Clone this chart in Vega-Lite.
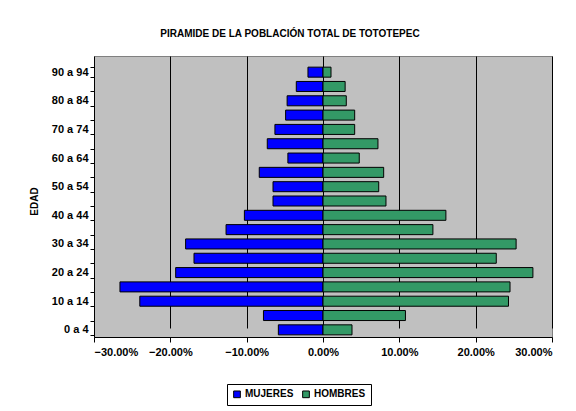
{
  "$schema": "https://vega.github.io/schema/vega-lite/v6.json",
  "width": 458,
  "height": 281,
  "autosize": "none",
  "padding": {"left": 94, "top": 56, "right": 24, "bottom": 74},
  "background": "white",
  "title": {
    "text": "PIRAMIDE DE LA POBLACIÓN TOTAL DE TOTOTEPEC",
    "font": "Liberation Sans",
    "fontSize": 10,
    "fontWeight": "bold",
    "color": "black",
    "anchor": "middle",
    "dx": -33,
    "offset": 11
  },
  "data": {
    "values": [
      {"edad": "0 a 4", "sexo": "MUJERES", "pct": -0.0585},
      {"edad": "5 a 9", "sexo": "MUJERES", "pct": -0.078},
      {"edad": "10 a 14", "sexo": "MUJERES", "pct": -0.240},
      {"edad": "15 a 19", "sexo": "MUJERES", "pct": -0.266},
      {"edad": "20 a 24", "sexo": "MUJERES", "pct": -0.193},
      {"edad": "25 a 29", "sexo": "MUJERES", "pct": -0.169},
      {"edad": "30 a 34", "sexo": "MUJERES", "pct": -0.180},
      {"edad": "35 a 39", "sexo": "MUJERES", "pct": -0.127},
      {"edad": "40 a 44", "sexo": "MUJERES", "pct": -0.103},
      {"edad": "45 a 49", "sexo": "MUJERES", "pct": -0.0655},
      {"edad": "50 a 54", "sexo": "MUJERES", "pct": -0.0655},
      {"edad": "55 a 59", "sexo": "MUJERES", "pct": -0.0835},
      {"edad": "60 a 64", "sexo": "MUJERES", "pct": -0.046},
      {"edad": "65 a 69", "sexo": "MUJERES", "pct": -0.073},
      {"edad": "70 a 74", "sexo": "MUJERES", "pct": -0.063},
      {"edad": "75 a 79", "sexo": "MUJERES", "pct": -0.049},
      {"edad": "80 a 84", "sexo": "MUJERES", "pct": -0.047},
      {"edad": "85 a 89", "sexo": "MUJERES", "pct": -0.035},
      {"edad": "90 a 94", "sexo": "MUJERES", "pct": -0.0197},
      {"edad": "0 a 4", "sexo": "HOMBRES", "pct": 0.038},
      {"edad": "5 a 9", "sexo": "HOMBRES", "pct": 0.108},
      {"edad": "10 a 14", "sexo": "HOMBRES", "pct": 0.243},
      {"edad": "15 a 19", "sexo": "HOMBRES", "pct": 0.245},
      {"edad": "20 a 24", "sexo": "HOMBRES", "pct": 0.275},
      {"edad": "25 a 29", "sexo": "HOMBRES", "pct": 0.227},
      {"edad": "30 a 34", "sexo": "HOMBRES", "pct": 0.253},
      {"edad": "35 a 39", "sexo": "HOMBRES", "pct": 0.144},
      {"edad": "40 a 44", "sexo": "HOMBRES", "pct": 0.161},
      {"edad": "45 a 49", "sexo": "HOMBRES", "pct": 0.0825},
      {"edad": "50 a 54", "sexo": "HOMBRES", "pct": 0.073},
      {"edad": "55 a 59", "sexo": "HOMBRES", "pct": 0.0795},
      {"edad": "60 a 64", "sexo": "HOMBRES", "pct": 0.0475},
      {"edad": "65 a 69", "sexo": "HOMBRES", "pct": 0.072},
      {"edad": "70 a 74", "sexo": "HOMBRES", "pct": 0.0415},
      {"edad": "75 a 79", "sexo": "HOMBRES", "pct": 0.0415},
      {"edad": "80 a 84", "sexo": "HOMBRES", "pct": 0.0305},
      {"edad": "85 a 89", "sexo": "HOMBRES", "pct": 0.029},
      {"edad": "90 a 94", "sexo": "HOMBRES", "pct": 0.0105}
    ]
  },
  "mark": {"type": "bar", "stroke": "black", "strokeWidth": 1},
  "encoding": {
    "y": {
      "field": "edad",
      "type": "nominal",
      "scale": {
        "domain": ["90 a 94", "85 a 89", "80 a 84", "75 a 79", "70 a 74", "65 a 69", "60 a 64", "55 a 59", "50 a 54", "45 a 49", "40 a 44", "35 a 39", "30 a 34", "25 a 29", "20 a 24", "15 a 19", "10 a 14", "5 a 9", "0 a 4"],
        "range": [9, 281],
        "paddingInner": 0.3,
        "paddingOuter": 0.15
      },
      "axis": {
        "title": "EDAD",
        "titleFont": "Liberation Sans",
        "titleFontSize": 10,
        "titleFontWeight": "bold",
        "titleColor": "black",
        "titlePadding": 12,
        "labelExpr": "parseInt(datum.value) % 10 === 0 ? datum.value : ''",
        "labelFont": "Liberation Sans",
        "labelFontSize": 11,
        "labelFontWeight": "bold",
        "labelColor": "black",
        "labelPadding": 2,
        "tickBand": "extent",
        "tickColor": "black",
        "tickSize": 4,
        "domainColor": "black",
        "grid": false
      }
    },
    "x": {
      "field": "pct",
      "type": "quantitative",
      "scale": {"domain": [-0.3, 0.3], "nice": false},
      "axis": {
        "title": null,
        "format": ".2%",
        "values": [-0.3, -0.2, -0.1, 0, 0.1, 0.2, 0.3],
        "labelFont": "Liberation Sans",
        "labelFontSize": 11,
        "labelFontWeight": "bold",
        "labelColor": "black",
        "labelPadding": 4,
        "tickColor": "black",
        "tickSize": 5,
        "domainColor": "black",
        "grid": true,
        "gridColor": "black",
        "gridOpacity": 1,
        "gridWidth": 1
      }
    },
    "color": {
      "field": "sexo",
      "type": "nominal",
      "scale": {"domain": ["MUJERES", "HOMBRES"], "range": ["#0000FF", "#339966"]},
      "legend": {
        "title": null,
        "orient": "none",
        "direction": "horizontal",
        "legendX": 133,
        "legendY": 328,
        "labelFont": "Liberation Sans",
        "labelFontSize": 10,
        "labelFontWeight": "bold",
        "labelColor": "black",
        "symbolType": "square",
        "symbolSize": 45,
        "symbolStrokeColor": "black",
        "symbolStrokeWidth": 1,
        "symbolOpacity": 1,
        "columnPadding": 6,
        "labelOffset": 3,
        "strokeColor": "black",
        "fillColor": "white",
        "padding": 5
      }
    }
  },
  "config": {
    "view": {"fill": "#C0C0C0", "stroke": "#808080", "strokeWidth": 1}
  }
}
